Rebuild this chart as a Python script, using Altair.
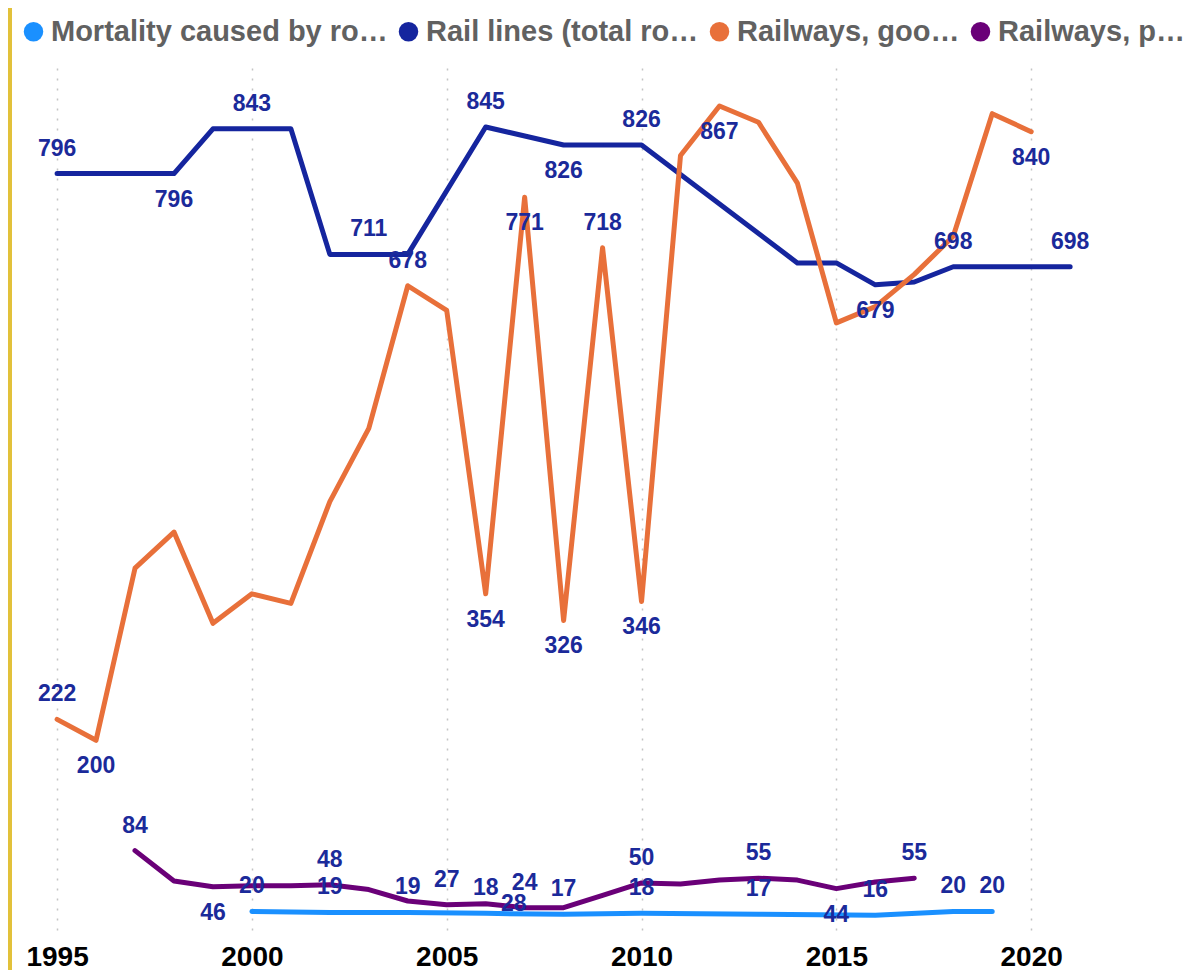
import altair as alt
import pandas as pd

# ---------------- data ----------------
SERIES = [
    "Mortality caused by road traffic injury",
    "Rail lines (total route-km)",
    "Railways, goods transported (million ton-km)",
    "Railways, passengers carried (million passenger-km)",
]
SHORT_NAMES = [
    "Mortality caused by ro…",
    "Rail lines (total ro…",
    "Railways, goo…",
    "Railways, p…",
]
COLORS = ["#1a90ff", "#15259e", "#e8703a", "#6a0078"]

mort_years = [2000, 2002, 2004, 2006, 2008, 2010, 2013, 2016, 2018, 2019]
mort_vals = [20, 19, 19, 18, 17, 18, 17, 16, 20, 20]

rail_years = [1995, 1996, 1997, 1998, 1999, 2000, 2001, 2002, 2003, 2004,
              2006, 2008, 2009, 2010, 2014, 2015, 2016, 2017, 2018, 2019,
              2020, 2021]
rail_vals = [796, 796, 796, 796, 843, 843, 843, 711, 711, 711,
             845, 826, 826, 826, 702, 702, 679, 682, 698, 698,
             698, 698]

goods_years = list(range(1995, 2021))
goods_vals = [222, 200, 381, 419, 323, 354, 344, 451, 528, 678,
              652, 354, 771, 326, 718, 346, 815, 867, 850, 786,
              639, 656, 690, 730, 859, 840]

pass_years = list(range(1997, 2018))
pass_vals = [84, 52, 46, 47, 47, 48, 43, 31, 27, 28,
             24, 24, 37, 50, 49, 53, 55, 53, 44, 51, 55]

# which points carry a value label, and on which side of the line
labels_above = {
    SERIES[0]: [2000, 2002, 2004, 2006, 2008, 2010, 2013, 2016, 2018, 2019],
    SERIES[1]: [1995, 2000, 2003, 2006, 2010, 2018, 2021],
    SERIES[2]: [1995, 2004, 2009],
    SERIES[3]: [1997, 2002, 2005, 2007, 2010, 2013, 2017],
}
labels_below = {
    SERIES[1]: [1998, 2008, 2016],
    SERIES[2]: [1996, 2006, 2007, 2008, 2010, 2012, 2020],
    SERIES[3]: [1999, 2015],
}
labels_beside = {
    SERIES[3]: [2006],
}

# ---------------- tables ----------------
series_data = {
    SERIES[0]: (mort_years, mort_vals),
    SERIES[1]: (rail_years, rail_vals),
    SERIES[2]: (goods_years, goods_vals),
    SERIES[3]: (pass_years, pass_vals),
}

line_rows = []
for name, (yrs, vals) in series_data.items():
    for yr, v in zip(yrs, vals):
        line_rows.append({"series": name, "year": yr, "value": v})
line_df = pd.DataFrame(line_rows)

label_rows = []
for place, table in (("above", labels_above), ("below", labels_below), ("beside", labels_beside)):
    for name, yrs in table.items():
        lookup = dict(zip(*series_data[name]))
        for yr in yrs:
            label_rows.append({"series": name, "year": yr, "value": lookup[yr], "place": place})
label_df = pd.DataFrame(label_rows)

# ---------------- encodings ----------------
FONT = "Liberation Sans"

x_enc = alt.X(
    "year:Q",
    scale=alt.Scale(domain=[1993.74, 2023.64], nice=False, zero=False),
    axis=alt.Axis(
        values=[1995, 2000, 2005, 2010, 2015, 2020],
        format="d",
        title=None,
        ticks=False,
        domain=False,
        labelFont=FONT,
        labelFontSize=28,
        labelFontWeight="bold",
        labelColor="#000000",
        labelPadding=9,
        grid=True,
        gridColor="#c4c4c4",
        gridDash=[2, 8],
        gridWidth=1.5,
    ),
)
y_enc = alt.Y(
    "value:Q",
    scale=alt.Scale(domain=[-3.7, 907], nice=False, zero=False),
    axis=None,
)

label_map = "{" + ", ".join(
    "'" + full + "': '" + short + "'" for full, short in zip(SERIES, SHORT_NAMES)
) + "}"

legend = alt.Legend(
    title=None,
    orient="none",
    legendX=11,
    legendY=-51,
    direction="horizontal",
    columns=4,
    symbolType="circle",
    symbolSize=380,
    symbolStrokeWidth=0,
    symbolOpacity=1,
    labelFont=FONT,
    labelFontSize=29,
    labelFontWeight="bold",
    labelColor="#616161",
    labelLimit=1000,
    labelOffset=3,
    columnPadding=6,
    padding=0,
    labelExpr=label_map + "[datum.label]",
)

lines = alt.Chart(line_df).mark_line(
    strokeWidth=5, strokeCap="round", strokeJoin="round"
).encode(
    x=x_enc,
    y=y_enc,
    color=alt.Color("series:N", scale=alt.Scale(domain=SERIES, range=COLORS), legend=None),
    order="year:Q",
)

# tiny filled points (hidden under the lines) carry the legend with circle symbols
legend_pts = alt.Chart(line_df).mark_point(
    filled=True, size=1, strokeWidth=0
).encode(
    x=x_enc,
    y=y_enc,
    color=alt.Color("series:N", scale=alt.Scale(domain=SERIES, range=COLORS), legend=legend),
)

text_style = dict(
    font=FONT, fontSize=23, fontWeight="bold", color="#1b2a9a",
    align="center", baseline="middle",
)

lab_above = alt.Chart(label_df).transform_filter(
    alt.datum.place == "above"
).mark_text(dy=-25, **text_style).encode(x=x_enc, y=y_enc, text=alt.Text("value:Q", format="d"))

lab_below = alt.Chart(label_df).transform_filter(
    alt.datum.place == "below"
).mark_text(dy=26, **text_style).encode(x=x_enc, y=y_enc, text=alt.Text("value:Q", format="d"))

lab_beside = alt.Chart(label_df).transform_filter(
    alt.datum.place == "beside"
).mark_text(dx=28, dy=0, **text_style).encode(x=x_enc, y=y_enc, text=alt.Text("value:Q", format="d"))

edge = alt.Chart(pd.DataFrame({"k": [0]})).mark_rule(
    color="#e2c13a", strokeWidth=4
).encode(x=alt.value(2), y=alt.value(-60), y2=alt.value(902))

chart = alt.layer(edge, lines, legend_pts, lab_above, lab_below, lab_beside).resolve_scale(
    color="independent"
).properties(
    width=1165,
    height=866,
    background="white",
    autosize=alt.AutoSizeParams(type="none"),
    padding={"left": 0, "top": 60, "right": 15, "bottom": 36},
).configure_view(strokeWidth=0)

chart.save("out.html", embed_options={"renderer": "svg", "actions": False})
